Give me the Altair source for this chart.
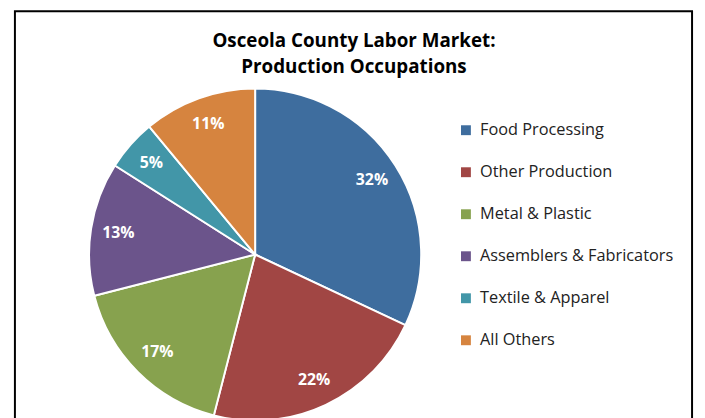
import altair as alt
import pandas as pd

categories = ["Food Processing", "Other Production", "Metal & Plastic",
              "Assemblers & Fabricators", "Textile & Apparel", "All Others"]
shares = [32, 22, 17, 13, 5, 11]
colors = ["#3E6D9E", "#A14644", "#87A24E", "#6B548B", "#4296A8", "#D6843F"]
title_lines = ["Osceola County Labor Market:", "Production Occupations"]

FONT = "Open Sans"

df = pd.DataFrame({"category": categories, "share": shares,
                   "order": list(range(len(categories)))})
df["label"] = df["share"].astype(str) + "%"

CX, CY, R = 250, 247, 168

base = alt.Chart(df).encode(
    theta=alt.Theta("share:Q", stack=True),
    order=alt.Order("order:Q"),
)

arcs = base.mark_arc(outerRadius=R, stroke="white", strokeWidth=2).encode(
    x=alt.value(CX), y=alt.value(CY),
    color=alt.Color(
        "category:N",
        scale=alt.Scale(domain=categories, range=colors),
        legend=alt.Legend(
            title=None, orient="none", legendX=455, legendY=113,
            symbolType="square", symbolSize=100, symbolStrokeWidth=0,
            labelFontSize=16.5, labelFont=FONT, labelColor="#222222",
            labelOffset=6, rowPadding=25.5, labelLimit=400,
        ),
    ),
)

labels = base.mark_text(radius=140, fontSize=16, fontWeight="bold",
                        font=FONT, color="white").encode(
    x=alt.value(CX), y=alt.value(CY), text="label:N",
)

tdf = pd.DataFrame({"line": title_lines, "row": [0, 1]})
title = alt.Chart(tdf).mark_text(fontSize=19, fontWeight="bold", font=FONT,
                                 color="black", baseline="middle").encode(
    x=alt.value(350),
    y=alt.Y("row:Q", scale=alt.Scale(domain=[0, 1], range=[31, 57]), axis=None),
    text="line:N",
)

frame = alt.Chart(pd.DataFrame({"f": [0]})).mark_rect(
    fillOpacity=0, stroke="black", strokeWidth=2
).encode(x=alt.value(7), x2=alt.value(692), y=alt.value(1), y2=alt.value(460))

chart = alt.layer(frame, arcs, labels, title).properties(
    width=697, height=410,
    autosize=alt.AutoSizeParams(type="none"),
    padding=0,
).configure_view(stroke=None)

chart.save("out.html", embed_options={"renderer": "svg", "actions": False})
